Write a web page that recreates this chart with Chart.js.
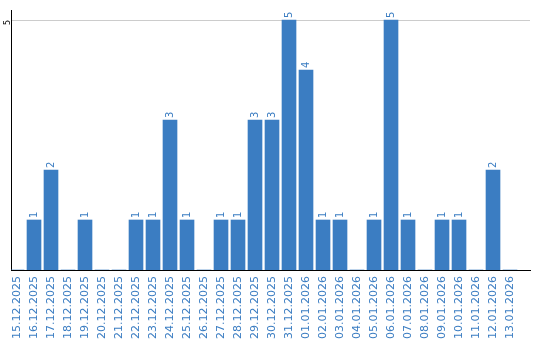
<!DOCTYPE html>
<html>
<head>
<meta charset="utf-8">
<script src="https://cdn.jsdelivr.net/npm/chart.js@4.4.1/dist/chart.umd.min.js"></script>
<style>
  html, body { margin: 0; padding: 0; background: #fff; }
  canvas { display: block; }
</style>
</head>
<body>
<canvas id="chart" width="540" height="340"></canvas>
<script>
  // Daily counts, 15.12.2025 - 13.01.2026
  var dates = [
    '15.12.2025', '16.12.2025', '17.12.2025', '18.12.2025', '19.12.2025',
    '20.12.2025', '21.12.2025', '22.12.2025', '23.12.2025', '24.12.2025',
    '25.12.2025', '26.12.2025', '27.12.2025', '28.12.2025', '29.12.2025',
    '30.12.2025', '31.12.2025', '01.01.2026', '02.01.2026', '03.01.2026',
    '04.01.2026', '05.01.2026', '06.01.2026', '07.01.2026', '08.01.2026',
    '09.01.2026', '10.01.2026', '11.01.2026', '12.01.2026', '13.01.2026'
  ];
  var counts = [
    0, 1, 2, 0, 1,
    0, 0, 1, 1, 3,
    1, 0, 1, 1, 3,
    3, 5, 4, 1, 1,
    0, 1, 5, 1, 0,
    1, 1, 0, 2, 0
  ];
  var yTicks = [5];

  var BLUE = '#3b7dc2';
  var FONT = 'DejaVu Sans';

  // x is a linear index axis so the day slots are 17px wide and
  // the axis line still runs past the last day like in the original
  var points = counts.map(function(v, i) { return { x: i, y: v }; });

  // Rotated value labels above each bar
  var valueLabels = {
    id: 'valueLabels',
    afterDatasetsDraw: function(chart) {
      var ctx = chart.ctx;
      var meta = chart.getDatasetMeta(0);
      ctx.save();
      ctx.fillStyle = BLUE;
      ctx.font = '10px "' + FONT + '"';
      ctx.textAlign = 'left';
      ctx.textBaseline = 'middle';
      meta.data.forEach(function(bar, i) {
        var v = counts[i];
        if (!v) return;
        ctx.save();
        ctx.translate(bar.x, bar.y - 2);
        ctx.rotate(-Math.PI / 2);
        ctx.fillText(String(v), 0, 0);
        ctx.restore();
      });
      ctx.restore();
    }
  };

  new Chart(document.getElementById('chart').getContext('2d'), {
    type: 'bar',
    data: {
      datasets: [{
        data: points,
        backgroundColor: BLUE,
        borderWidth: 0,
        barThickness: 14
      }]
    },
    options: {
      responsive: false,
      devicePixelRatio: 1,
      animation: false,
      layout: { padding: { top: 10, right: 10, left: 0, bottom: 0 } },
      plugins: {
        legend: { display: false },
        tooltip: { enabled: false }
      },
      scales: {
        x: {
          type: 'linear',
          offset: false,
          min: -0.353,
          max: 30.176,
          afterBuildTicks: function(scale) {
            scale.ticks = dates.map(function(d, i) { return { value: i }; });
          },
          grid: { display: false, drawTicks: false },
          border: { color: '#000', width: 1 },
          ticks: {
            color: BLUE,
            font: { family: FONT, size: 11 },
            minRotation: 90,
            maxRotation: 90,
            autoSkip: false,
            padding: 6,
            callback: function(v) { return dates[v]; }
          },
          afterFit: function(scale) { scale.height = 70; }
        },
        y: {
          min: 0,
          max: 5.2,
          afterBuildTicks: function(scale) {
            scale.ticks = yTicks.map(function(v) { return { value: v }; });
          },
          grid: { color: '#cccccc', drawTicks: false },
          border: { color: '#000', width: 1 },
          ticks: {
            color: '#000',
            font: { family: FONT, size: 8 },
            minRotation: 90,
            maxRotation: 90,
            padding: 3
          },
          afterFit: function(scale) { scale.width = 11; }
        }
      }
    },
    plugins: [valueLabels]
  });
</script>
</body>
</html>
